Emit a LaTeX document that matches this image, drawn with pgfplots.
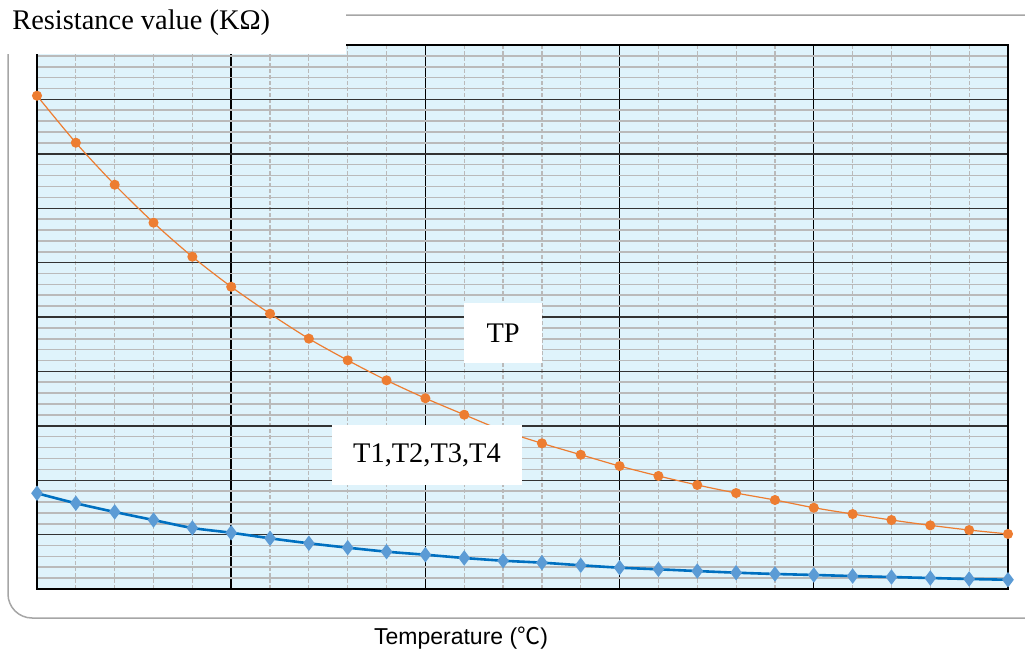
\documentclass[border=0pt]{standalone}
\usepackage{fontspec}
\setmainfont{Liberation Serif}
\setsansfont{Liberation Sans}
\newfontfamily\cjk{Noto Sans CJK SC}
\usepackage{pgfplots}
\pgfplotsset{compat=1.18}
\definecolor{plotbg}{HTML}{DFF3FB}
\definecolor{tporange}{HTML}{ED7D31}
\definecolor{tline}{HTML}{0070C0}
\definecolor{tmark}{HTML}{5B9BD5}
\definecolor{framegrey}{HTML}{A6A6A6}
\definecolor{minorgrey}{HTML}{BABABA}

\pgfplotstableread{
t   r
0   45.34
1   41.02
2   37.16
3   33.67
4   30.54
5   27.78
6   25.30
7   23.01
8   21.02
9   19.18
10  17.53
11  16.02
12  14.55
13  13.39
14  12.34
15  11.30
16  10.39
17  9.56
18  8.82
19  8.18
20  7.47
21  6.89
22  6.34
23  5.85
24  5.42
25  5.06
}\tpdata

\pgfplotstableread{
t   r
0   8.80
1   7.88
2   7.08
3   6.34
4   5.61
5   5.17
6   4.66
7   4.20
8   3.80
9   3.43
10  3.15
11  2.85
12  2.60
13  2.42
14  2.18
15  1.96
16  1.81
17  1.65
18  1.50
19  1.38
20  1.29
21  1.19
22  1.10
23  1.01
24  0.92
25  0.85
}\tdata

\begin{document}
\begin{tikzpicture}
\useasboundingbox (0,0) rectangle (512.5pt,325pt);
\clip (0,0) rectangle (512.5pt,325pt);
% outer rounded frame
\draw[framegrey, line width=0.75pt, rounded corners=12pt]
  (4pt,16pt) rectangle (530pt,317.5pt);
\begin{axis}[
  at={(18.5pt,30.5pt)}, anchor=south west,
  scale only axis,
  width=485.5pt, height=272pt,
  xmin=0, xmax=25, ymin=0, ymax=50,
  xtick={0,5,...,25}, ytick={0,5,...,50},
  minor x tick num=4, minor y tick num=4,
  xticklabels={}, yticklabels={},
  major tick length=0pt, minor tick length=0pt,
  grid=both,
  major x grid style={black, line width=0.7pt},
  major y grid style={black!80, line width=0.7pt},
  minor x grid style={minorgrey, line width=0.6pt, dash pattern=on 2pt off 1pt},
  minor y grid style={minorgrey, line width=0.8pt},
  axis line style={black, line width=0.7pt},
  axis background/.style={fill=plotbg},
  clip=false,
]
\addplot[tporange, line width=0.6pt, smooth, mark=*, mark size=2.2pt,
  mark options={fill=tporange, draw=tporange}] table[x=t, y=r] {\tpdata};
\addplot[tline, line width=1.3pt, smooth, mark=diamond*, mark size=2.8pt,
  mark options={fill=tmark, draw=tmark}] table[x=t, y=r] {\tdata};
\coordinate (tp) at (axis cs:12,23.5);
\coordinate (tn) at (axis cs:10.04,12.3);
\end{axis}
\node[fill=white, minimum width=39pt, minimum height=30pt, inner sep=0pt,
  font=\fontsize{14.2pt}{16pt}\selectfont] at (tp) {TP};
\node[fill=white, minimum width=95pt, minimum height=30pt, inner sep=0pt,
  font=\fontsize{14.2pt}{16pt}\selectfont] at (tn) {T1,T2,T3,T4};
% title with white backing
\fill[white] (0,298pt) rectangle (173pt,325pt);
\node[anchor=base west, inner sep=0pt, font=\fontsize{14.2pt}{16pt}\selectfont]
  at (6pt,310pt) {Resistance value (KΩ)};
% x label
\node[anchor=base, inner sep=0pt, font=\sffamily\fontsize{11.5pt}{13pt}\selectfont]
  at (230.5pt,3pt) {Temperature ({\cjk ℃})};
\end{tikzpicture}
\end{document}
